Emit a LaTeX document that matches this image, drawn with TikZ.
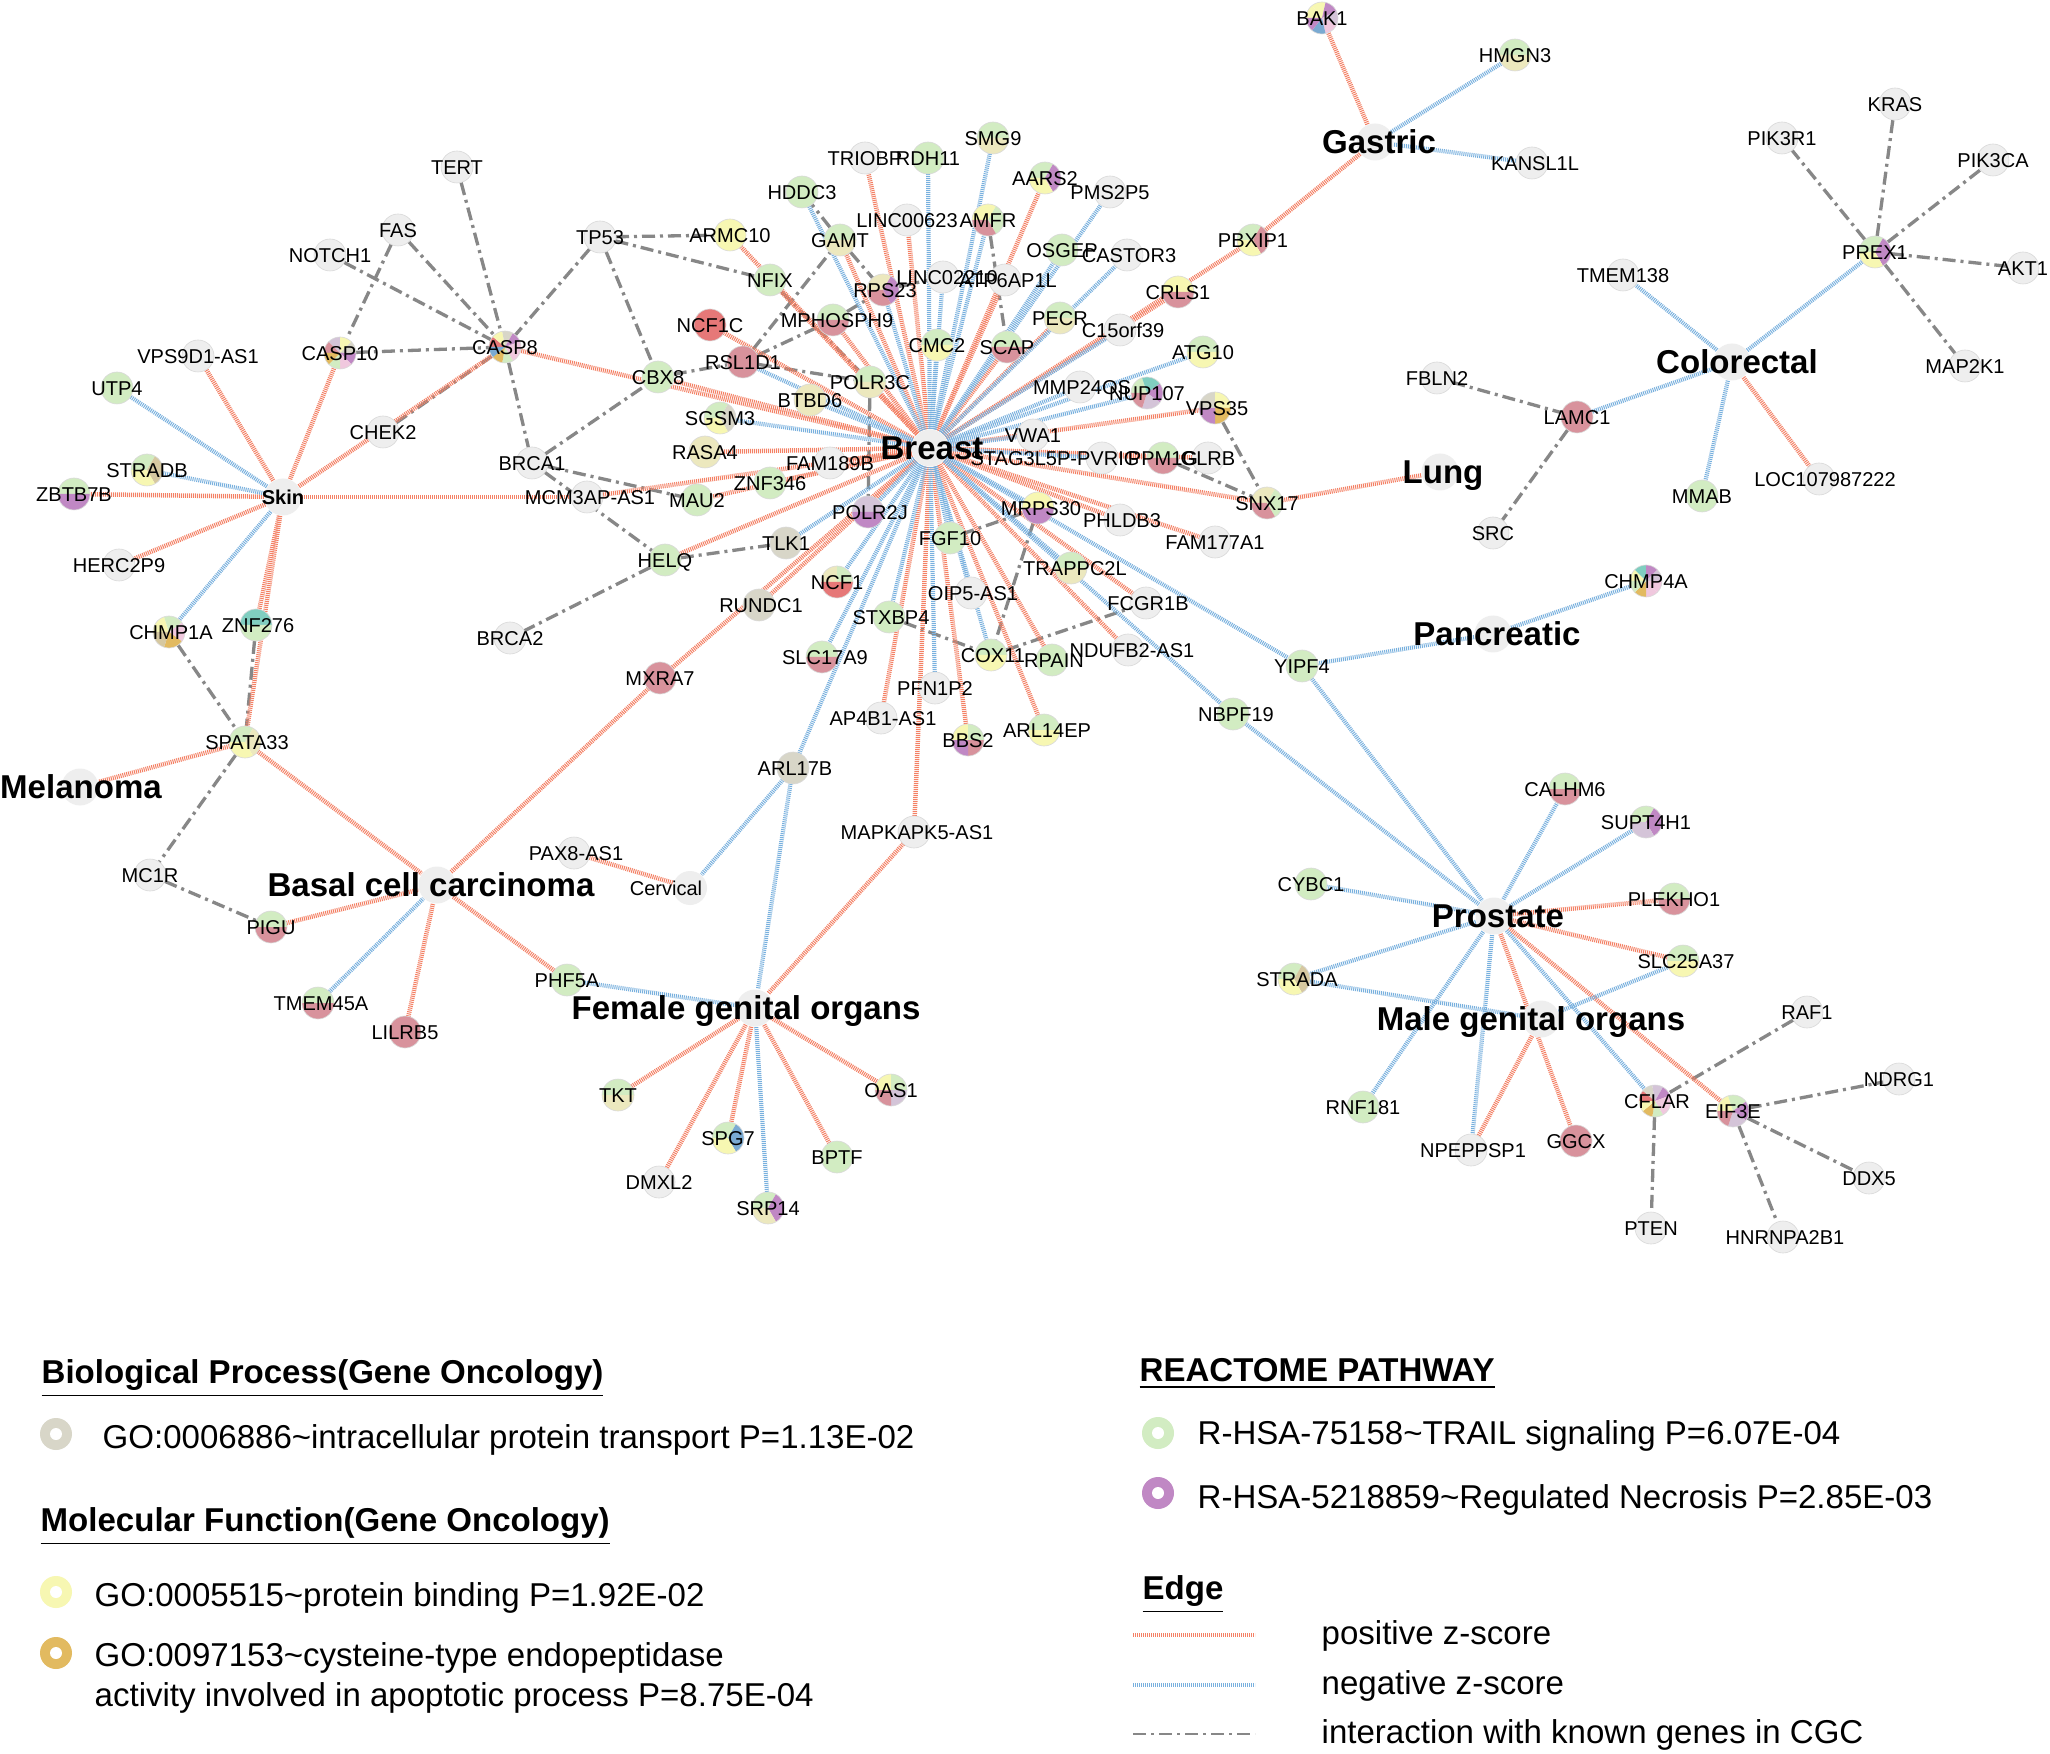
\documentclass[tikz,border=0pt]{standalone}
\usepackage{fontspec}
\setmainfont{Liberation Sans}
\pgfdeclarelayer{edges}
\pgfdeclarelayer{labels}
\pgfsetlayers{edges,main,labels}
\definecolor{gNone}{RGB}{238,238,238}
\definecolor{gGrn}{RGB}{210,236,194}
\definecolor{gYel}{RGB}{247,247,178}
\definecolor{gBei}{RGB}{236,232,190}
\definecolor{gGry}{RGB}{216,214,200}
\definecolor{gPur}{RGB}{192,136,196}
\definecolor{gPnk}{RGB}{216,146,156}
\definecolor{gRed}{RGB}{230,120,120}
\definecolor{gOra}{RGB}{226,186,96}
\definecolor{gTea}{RGB}{128,206,192}
\definecolor{gBlu}{RGB}{122,170,210}
\definecolor{gLpk}{RGB}{240,200,222}
\definecolor{gLpu}{RGB}{212,196,216}
\definecolor{gTan}{RGB}{214,200,160}
\definecolor{ePos}{RGB}{244,128,100}
\definecolor{eNeg}{RGB}{120,176,222}
\definecolor{eCgc}{RGB}{135,135,135}
\tikzset{
 gnode/.style={circle, minimum size=3.2mm, inner sep=0pt, outer sep=0pt},
 hubnode/.style={circle, minimum size=3.7mm, inner sep=0pt, fill=gNone},
 glabel/.style={inner sep=0pt, font=\fontsize{5.7}{6}\selectfont, text height=1.43mm, text depth=0pt},
 hublabel/.style={inner sep=0pt, font=\bfseries\fontsize{9.4}{10}\selectfont, text height=2.36mm, text depth=0pt},
 posedge/.style={draw=ePos, line width=0.45mm, dash pattern=on 0.1mm off 0.1mm},
 negedge/.style={draw=eNeg, line width=0.42mm, dash pattern=on 0.1mm off 0.1mm},
 cgcedge/.style={draw=eCgc, line width=0.33mm, dash pattern=on 1.3mm off 0.5mm on 0.3mm off 0.5mm},
 legtext/.style={anchor=west, inner sep=0pt, font=\fontsize{9.4}{11}\selectfont, text height=2.36mm, text depth=0pt},
 leghead/.style={anchor=west, inner sep=0pt, font=\bfseries\fontsize{9.4}{11}\selectfont, text height=2.36mm, text depth=0pt},
 ring/.style={circle, minimum size=3.2mm, inner sep=0pt},
}
\newcommand\gn[5][0]{%
  \node[gnode] (#2) at (#3) {};%
  \foreach \pc [count=\n] in {#4}{\xdef\piecount{\n}}%
  \foreach \pc [count=\i] in {#4}{%
    \pgfmathsetmacro\sa{180-(\i-1)*360/\piecount}%
    \pgfmathsetmacro\da{-360/\piecount}%
    \fill[fill=\pc] (#2.center) -- ++(\sa:1.6mm) arc[start angle=\sa, delta angle=\da, radius=1.6mm] -- cycle;}%
  \draw[black!15, line width=0.06mm] (#2.center) circle[radius=1.6mm];%
  \begin{pgfonlayer}{labels}\node[glabel] at ([xshift=#1*0.1mm]#2.center) {#5};\end{pgfonlayer}%
}
\newcommand\hub[4][0]{%
  \node[hubnode] (#2) at (#3) {};%
  \begin{pgfonlayer}{labels}\node[hublabel] at ([xshift=#1*0.1mm]#2.center) {#4};\end{pgfonlayer}%
}
\begin{document}
\begin{tikzpicture}[x=0.1mm, y=-0.1mm]
\useasboundingbox (0,0) rectangle (2050,1754);
% ---------- hubs
\hub[2]{breast}{930,448}{Breast}
\hub[4]{gastric}{1375,142}{Gastric}
\hub[5]{colorectal}{1732,362}{Colorectal}
\hub[3]{lung}{1440,472}{Lung}
\hub[4]{pancreatic}{1493,634}{Pancreatic}
\hub[4]{prostate}{1494,916}{Prostate}
\hub[-10]{male}{1541,1019}{Male genital organs}
\hub[-9]{female}{755,1008}{Female genital organs}
\hub[-6]{bcc}{437,885}{Basal cell carcinoma}
\hub[1]{melanoma}{80,787}{Melanoma}
\node[hubnode] (skin) at (283,497) {};
\node[hubnode, minimum size=3.4mm] (cervical) at (690,888) {};
\begin{pgfonlayer}{labels}
\node[glabel, font=\bfseries\fontsize{5.7}{6}\selectfont] at (skin.center) {Skin};
\node[glabel] at ([xshift=-2.4mm]cervical.center) {Cervical};
\end{pgfonlayer}
% ---------- genes (left)
\gn{tert}{457,167}{gNone}{TERT}
\gn{fas}{398,230}{gNone}{FAS}
\gn{notch}{330,255}{gNone}{NOTCH1}
\gn{casp10}{340,353}{gPnk,gLpu,gYel,gGry,gPur,gLpk,gGrn,gOra}{CASP10}
\gn{casp8}{505,347}{gRed,gYel,gGry,gPur,gLpk,gLpk,gGrn,gOra,gBlu}{CASP8}
\gn{tp53}{600,237}{gNone}{TP53}
\gn{vps9}{198,356}{gNone}{VPS9D1-AS1}
\gn{utp4}{117,388}{gGrn}{UTP4}
\gn{chek2}{383,432}{gNone}{CHEK2}
\gn{brca1}{532,463}{gNone}{BRCA1}
\gn[3]{mcm3}{587,497}{gNone}{MCM3AP-AS1}
\gn{stradb}{147,470}{gGrn,gTan,gYel}{STRADB}
\gn{zbtb7b}{74,494}{gGrn,gPur}{ZBTB7B}
\gn{herc}{119,565}{gNone}{HERC2P9}
\gn[2]{chmp1a}{169,632}{gYel,gGrn,gLpk,gOra,gTan}{CHMP1A}
\gn[2]{znf276}{256,625}{gTea,gGrn}{ZNF276}
\gn{brca2}{510,638}{gNone}{BRCA2}
\gn[2]{spata33}{245,742}{gGrn,gBei,gYel}{SPATA33}
\gn{mc1r}{150,875}{gNone}{MC1R}
\gn{pigu}{271,927}{gGrn,gPnk}{PIGU}
\gn[3]{tmem45a}{318,1003}{gGrn,gPnk}{TMEM45A}
\gn{lilrb5}{405,1032}{gPnk}{LILRB5}
\gn{phf5a}{567,980}{gGrn}{PHF5A}
\gn{mxra7}{660,678}{gPnk}{MXRA7}
\gn[2]{pax8}{574,853}{gNone}{PAX8-AS1}
\gn{tkt}{618,1095}{gGrn,gBei}{TKT}
\gn{oas1}{891,1090}{gYel,gGrn,gLpu,gPnk}{OAS1}
\gn{spg7}{728,1138}{gGrn,gBlu,gYel}{SPG7}
\gn{bptf}{837,1157}{gGrn}{BPTF}
\gn{dmxl2}{659,1182}{gNone}{DMXL2}
\gn{srp14}{768,1208}{gGrn,gPur,gBei}{SRP14}
\gn{cbx8}{658,377}{gGrn}{CBX8}
% ---------- genes (centre)
\gn{trio}{865,158}{gNone}{TRIOBP}
\gn{rdh11}{928,158}{gGrn}{RDH11}
\gn{smg9}{993,138}{gGrn,gBei}{SMG9}
\gn{hddc3}{802,192}{gGrn}{HDDC3}
\gn{aars2}{1045,178}{gGrn,gPur,gYel}{AARS2}
\gn{pms2p5}{1110,192}{gNone}{PMS2P5}
\gn{linc623}{907,220}{gNone}{LINC00623}
\gn{amfr}{988,220}{gYel,gGrn,gPnk}{AMFR}
\gn{armc10}{730,235}{gYel}{ARMC10}
\gn{gamt}{840,240}{gGrn,gBei}{GAMT}
\gn{osgep}{1062,250}{gGrn}{OSGEP}
\gn[2]{castor3}{1127,255}{gNone}{CASTOR3}
\gn{nfix}{770,280}{gGrn}{NFIX}
\gn[2]{rps23}{883,290}{gBei,gPur,gPnk}{RPS23}
\gn[4]{linc2210}{943,277}{gNone}{LINC02210}
\gn[3]{atp6}{1005,280}{gNone}{ATP6AP1L}
\gn{ncf1c}{710,325}{gRed}{NCF1C}
\gn[4]{mphos}{833,320}{gGrn,gPnk}{MPHOSPH9}
\gn{pecr}{1060,318}{gGrn,gBei}{PECR}
\gn[3]{c15}{1120,330}{gNone}{C15orf39}
\gn{cmc2}{937,345}{gGrn,gYel}{CMC2}
\gn{scap}{1007,347}{gGrn,gPnk}{SCAP}
\gn{rsl1d1}{743,362}{gPnk}{RSL1D1}
\gn{polr3c}{870,382}{gGrn,gBei}{POLR3C}
\gn{btbd6}{810,400}{gBei}{BTBD6}
\gn[2]{mmp24}{1080,387}{gNone}{MMP24OS}
\gn{nup107}{1147,393}{gGrn,gTea,gPur,gLpu,gPnk}{NUP107}
\gn{sgsm3}{720,418}{gGrn,gGry,gYel}{SGSM3}
\gn{rasa4}{705,452}{gBei}{RASA4}
\gn{vwa1}{1033,435}{gNone}{VWA1}
\gn{fam189b}{830,463}{gNone}{FAM189B}
\gn[-47]{stag3}{1102,458}{gNone}{STAG3L5P-PVRIG}
\gn{ppm1g}{1163,458}{gGrn,gPnk}{PPM1G}
\gn{glrb}{1208,458}{gNone}{GLRB}
\gn{znf346}{770,483}{gGrn}{ZNF346}
\gn{mau2}{697,500}{gGrn}{MAU2}
\gn[2]{polr2j}{868,512}{gLpu,gPur}{POLR2J}
\gn[3]{mrps30}{1038,508}{gYel,gPur}{MRPS30}
\gn[2]{phldb3}{1120,520}{gNone}{PHLDB3}
\gn{fgf10}{950,538}{gGrn}{FGF10}
\gn{tlk1}{786,543}{gGry}{TLK1}
\gn{helq}{665,560}{gGrn}{HELQ}
\gn{fam177}{1215,542}{gNone}{FAM177A1}
\gn[4]{trappc}{1071,568}{gGrn,gBei}{TRAPPC2L}
\gn{ncf1}{837,582}{gBei,gGrn,gRed,gRed}{NCF1}
\gn[2]{oip5}{971,593}{gNone}{OIP5-AS1}
\gn[2]{fcgr1b}{1146,603}{gNone}{FCGR1B}
\gn[2]{rundc1}{759,605}{gGry}{RUNDC1}
\gn[2]{stxbp4}{889,617}{gGrn}{STXBP4}
\gn[2]{cox11}{991,655}{gGrn,gYel}{COX11}
\gn[2]{rpain}{1052,660}{gGrn}{RPAIN}
\gn[4]{ndufb2}{1128,650}{gNone}{NDUFB2-AS1}
\gn[3]{slc17a9}{822,657}{gGrn,gPnk}{SLC17A9}
\gn{pfn1p2}{935,688}{gNone}{PFN1P2}
\gn[2]{ap4b1}{881,718}{gNone}{AP4B1-AS1}
\gn{bbs2}{968,740}{gYel,gGrn,gPnk,gPur}{BBS2}
\gn[3]{arl14ep}{1044,730}{gGrn,gYel}{ARL14EP}
\gn[2]{arl17b}{793,768}{gGry}{ARL17B}
\gn[3]{mapk}{914,832}{gNone}{MAPKAPK5-AS1}
% ---------- genes (right)
\gn[3]{nbpf19}{1233,714}{gGrn}{NBPF19}
\gn{yipf4}{1302,666}{gGrn}{YIPF4}
\gn{chmp4a}{1646,581}{gYel,gTea,gPur,gLpu,gLpk,gLpk,gOra,gGrn}{CHMP4A}
\gn{crls1}{1178,292}{gYel,gPnk}{CRLS1}
\gn{pbxip1}{1253,240}{gGrn,gPnk,gYel}{PBXIP1}
\gn{atg10}{1203,352}{gGrn,gYel}{ATG10}
\gn[2]{vps35}{1215,408}{gGry,gYel,gOra,gPur}{VPS35}
\gn{snx17}{1267,503}{gBei,gGrn,gPnk}{SNX17}
\gn{bak1}{1322,18}{gYel,gYel,gPur,gLpu,gLpk,gBlu,gPur}{BAK1}
\gn{hmgn3}{1515,55}{gGrn,gBei}{HMGN3}
\gn[3]{kansl1l}{1532,163}{gNone}{KANSL1L}
\gn{fbln2}{1437,378}{gNone}{FBLN2}
\gn{lamc1}{1577,417}{gPnk}{LAMC1}
\gn{src}{1493,533}{gNone}{SRC}
\gn{kras}{1895,104}{gNone}{KRAS}
\gn{pik3r1}{1782,138}{gNone}{PIK3R1}
\gn{pik3ca}{1993,160}{gNone}{PIK3CA}
\gn{prex1}{1875,252}{gGrn,gPur,gYel}{PREX1}
\gn{akt1}{2023,268}{gNone}{AKT1}
\gn{tmem138}{1623,275}{gNone}{TMEM138}
\gn{map2k1}{1965,366}{gNone}{MAP2K1}
\gn{mmab}{1702,496}{gGrn}{MMAB}
\gn[6]{loc}{1819,479}{gNone}{LOC107987222}
\gn{calhm6}{1565,789}{gGrn,gPnk}{CALHM6}
\gn{supt4h1}{1646,822}{gGrn,gPur,gLpu}{SUPT4H1}
\gn{cybc1}{1311,884}{gGrn}{CYBC1}
\gn{plekho1}{1674,899}{gGrn,gPnk}{PLEKHO1}
\gn[3]{slc25a37}{1683,961}{gGrn,gYel}{SLC25A37}
\gn[3]{strada}{1294,979}{gGrn,gTan,gYel}{STRADA}
\gn{raf1}{1807,1012}{gNone}{RAF1}
\gn{ndrg1}{1899,1079}{gNone}{NDRG1}
\gn[2]{cflar}{1655,1101}{gRed,gGry,gLpu,gPur,gLpk,gLpk,gGrn,gOra,gYel}{CFLAR}
\gn{eif3e}{1733,1111}{gYel,gGrn,gPur,gLpu,gPnk}{EIF3E}
\gn{rnf181}{1363,1107}{gGrn}{RNF181}
\gn{ggcx}{1576,1141}{gPnk}{GGCX}
\gn[2]{npep}{1471,1150}{gNone}{NPEPPSP1}
\gn{ddx5}{1869,1178}{gNone}{DDX5}
\gn{pten}{1651,1228}{gNone}{PTEN}
\gn[2]{hnrnp}{1783,1237}{gNone}{HNRNPA2B1}
% ---------- edges
\begin{pgfonlayer}{edges}
\fill[white] (0,0) rectangle (2050,1754);
\foreach \a/\b in {tp53/casp8,tp53/armc10,tp53/nfix,tp53/cbx8,tert/casp8,fas/casp8,fas/casp10,notch/casp8,casp10/casp8,chek2/casp8,casp8/brca1,brca1/cbx8,brca1/mau2,brca1/helq,cbx8/rsl1d1,rsl1d1/gamt,rsl1d1/mphos,rsl1d1/polr3c,gamt/hddc3,gamt/rps23,mphos/rps23,rps23/linc2210,nfix/polr3c,polr3c/polr2j,helq/tlk1,helq/brca2,amfr/scap,mrps30/fgf10,mrps30/cox11,stxbp4/cox11,cox11/fcgr1b,ppm1g/snx17,vps35/snx17,chmp1a/spata33,znf276/spata33,spata33/mc1r,mc1r/pigu,fbln2/lamc1,lamc1/src,prex1/pik3r1,prex1/kras,prex1/pik3ca,prex1/akt1,prex1/map2k1,raf1/cflar,cflar/pten,eif3e/ndrg1,eif3e/ddx5,eif3e/hnrnp}
  \draw[cgcedge] (\a) -- (\b);
\foreach \a/\b in {skin/vps9,skin/casp10,skin/casp8,skin/zbtb7b,skin/herc,skin/mcm3,skin/znf276,skin/spata33,spata33/melanoma,spata33/bcc,pigu/bcc,lilrb5/bcc,phf5a/bcc,mxra7/bcc,pax8/cervical,mapk/female,female/tkt,female/dmxl2,female/spg7,female/bptf,female/oas1,gastric/bak1,gastric/pbxip1,lung/snx17,colorectal/loc,prostate/plekho1,prostate/slc25a37,prostate/ggcx,prostate/eif3e,male/npep}
  \draw[posedge] (\a) -- (\b);
\foreach \a/\b in {skin/utp4,skin/stradb,skin/chmp1a,tmem45a/bcc,phf5a/female,arl17b/cervical,arl17b/female,female/srp14,gastric/hmgn3,gastric/kansl1l,colorectal/tmem138,colorectal/prex1,colorectal/lamc1,colorectal/mmab,pancreatic/yipf4,pancreatic/chmp4a,yipf4/prostate,nbpf19/prostate,prostate/calhm6,prostate/supt4h1,prostate/cybc1,prostate/strada,prostate/rnf181,prostate/npep,prostate/cflar,male/strada,male/slc25a37}
  \draw[negedge] (\a) -- (\b);
\foreach \b in {trio,aars2,linc623,gamt,armc10,nfix,atp6,pecr,crls1,pbxip1,ncf1c,mphos,scap,polr3c,vps35,cbx8,casp8,rasa4,fam189b,ppm1g,glrb,znf346,mau2,snx17,phldb3,fam177,helq,fcgr1b,rundc1,rpain,ndufb2,ap4b1,bbs2,arl14ep,mxra7,mapk,mcm3}
  \draw[posedge] (breast) -- (\b);
\foreach \b in {rdh11,smg9,pms2p5,amfr,hddc3,rps23,linc2210,osgep,castor3,c15,cmc2,rsl1d1,btbd6,mmp24,nup107,atg10,sgsm3,vwa1,stag3,polr2j,mrps30,fgf10,tlk1,trappc,ncf1,oip5,stxbp4,cox11,slc17a9,pfn1p2,arl17b,yipf4,nbpf19}
  \draw[negedge] (breast) -- (\b);
\end{pgfonlayer}
% ---------- legend
\node[leghead] (h1) at (41,1372) {\underline{Biological Process(Gene Oncology)}};
\node[ring, fill=gGry] (r1) at (56,1434) {};
\fill[white] (r1.center) circle[radius=0.6mm];
\node[legtext] (t1) at (102,1437) {GO:0006886\textasciitilde intracellular protein transport P=1.13E-02};
\node[leghead] (h2) at (40,1520) {\underline{Molecular Function(Gene Oncology)}};
\node[ring, fill=gYel] (r2) at (56,1592) {};
\fill[white] (r2.center) circle[radius=0.6mm];
\node[legtext] (t2) at (94,1595) {GO:0005515\textasciitilde protein binding P=1.92E-02};
\node[ring, fill=gOra] (r3) at (56,1653) {};
\fill[white] (r3.center) circle[radius=0.6mm];
\node[legtext] (t3) at (94,1655) {GO:0097153\textasciitilde cysteine-type endopeptidase};
\node[legtext] (t4) at (94,1695) {activity involved in apoptotic process P=8.75E-04};
\node[leghead] (h3) at (1139,1370) {\underline{REACTOME PATHWAY}};
\node[ring, fill=gGrn] (r4) at (1158,1433) {};
\fill[white] (r4.center) circle[radius=0.6mm];
\node[legtext] (t5) at (1197,1433) {R-HSA-75158\textasciitilde TRAIL signaling P=6.07E-04};
\node[ring, fill=gPur] (r5) at (1158,1493) {};
\fill[white] (r5.center) circle[radius=0.6mm];
\node[legtext] (t6) at (1197,1497) {R-HSA-5218859\textasciitilde Regulated Necrosis P=2.85E-03};
\node[leghead] (h4) at (1142,1588) {\underline{Edge}};
\coordinate (p1) at (1133,1635); \coordinate (p2) at (1255,1635);
\coordinate (n1) at (1133,1685); \coordinate (n2) at (1255,1685);
\coordinate (c1) at (1133,1734); \coordinate (c2) at (1255,1734);
\draw[posedge, line width=0.35mm] (p1) -- (p2);
\draw[negedge, line width=0.35mm] (n1) -- (n2);
\draw[cgcedge, line width=0.22mm] (c1) -- (c2);
\node[legtext] (t7) at (1321,1633) {positive z-score};
\node[legtext] (t8) at (1321,1683) {negative z-score};
\node[legtext] (t9) at (1321,1732) {interaction with known genes in CGC};
\end{tikzpicture}
\end{document}
